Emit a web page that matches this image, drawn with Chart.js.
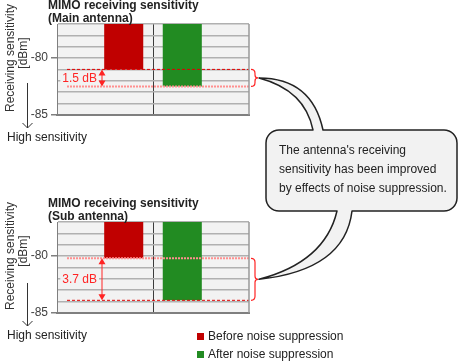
<!DOCTYPE html>
<html>
<head>
<meta charset="utf-8">
<script src="https://cdn.jsdelivr.net/npm/chart.js@4/dist/chart.umd.min.js"></script>
<style>
  html, body { margin: 0; padding: 0; background: #fff; }
  body { width: 460px; height: 364px; position: relative; overflow: hidden;
         font-family: "Liberation Sans", Arial, sans-serif; color: #222; }
  .panel { position: absolute; left: 0; width: 270px; height: 150px; }
  .panel canvas { position: absolute; left: 0; top: 0; }
  .title { position: absolute; left: 48px; top: -1px; font-weight: bold; font-size: 12px;
           line-height: 13px; white-space: nowrap; }
  .ytitle { position: absolute; width: 130px; height: 26px; left: -48.5px; top: 45px;
            transform: rotate(-90deg); text-align: center; font-size: 12px; line-height: 13px;
            white-space: nowrap; color: #333; }
  .ytitle span { display: block; position: relative; left: 5px; }
  .arrow { position: absolute; left: 0; top: 0; }
  .high { position: absolute; left: 7px; top: 130px; font-size: 12px; line-height: 14px; white-space: nowrap; }
  #callout { position: absolute; left: 0; top: 0; }
  #calloutText { position: absolute; left: 279px; top: 141px; font-size: 12px; line-height: 19px;
                 white-space: nowrap; color: #222; }
  #legend { position: absolute; left: 197px; top: 327px; font-size: 12px; }
  #legend div { height: 18px; line-height: 18px; white-space: nowrap; }
  #legend i { display: inline-block; width: 7px; height: 7px; margin-right: 4px; vertical-align: 0; }
</style>
</head>
<body>
<div class="panel" id="panel0" style="top:0px">
  <canvas id="chart0" width="270" height="125"></canvas>
  <div class="title">MIMO receiving sensitivity<br>(Main antenna)</div>
  <div class="ytitle">Receiving sensitivity<span>[dBm]</span></div>
  <svg class="arrow" width="40" height="140"><path d="M27.5 83 V128 M22.5 123 L27.5 128 L32.5 123" stroke="#333" fill="none"/></svg>
  <div class="high">High sensitivity</div>
</div>
<div class="panel" id="panel1" style="top:198px">
  <canvas id="chart1" width="270" height="125"></canvas>
  <div class="title">MIMO receiving sensitivity<br>(Sub antenna)</div>
  <div class="ytitle">Receiving sensitivity<span>[dBm]</span></div>
  <svg class="arrow" width="40" height="140"><path d="M27.5 85 V128 M22.5 123 L27.5 128 L32.5 123" stroke="#333" fill="none"/></svg>
  <div class="high">High sensitivity</div>
</div>
<svg id="callout" width="460" height="364"></svg>
<div id="calloutText">The antenna's receiving<br>sensitivity has been improved<br>by effects of noise suppression.</div>
<div id="legend"></div>

<script>
// Data
const antennaNames = ['Main antenna', 'Sub antenna'];
const seriesNames = ['Before noise suppression', 'After noise suppression'];
const beforeSuppression = [-81.0, -80.2];
const afterSuppression = [-82.5, -83.9];
const yLabelTicks = [-80, -85];
const yAxisTop = -77;
const yAxisBottom = -85;

const seriesColors = ['#c00000', '#228b22'];
const panelTops = [0, 198];
const PLOT_BG = '#f2f2f2';
const NOTE_RED = '#ff2424';

Chart.defaults.font.family = '"Liberation Sans", Arial, sans-serif';
Chart.defaults.font.size = 12;
Chart.defaults.color = '#404040';

// the two guide lines swap style between the panels
const dashedLine = { dash: [3, 2], width: 1, color: '#e00000' };
const dottedLine = { dash: [2, 1], width: 2, color: '#ff9090' };
const panelLineStyles = [[dashedLine, dottedLine], [dottedLine, dashedLine]];

const plotBackground = {
  id: 'plotBackground',
  beforeDraw(chart) {
    const { ctx, chartArea: a } = chart;
    ctx.save();
    ctx.fillStyle = PLOT_BG;
    ctx.fillRect(a.left, a.top, a.right - a.left, a.bottom - a.top);
    ctx.restore();
  },
  afterDraw(chart) {
    const { ctx, chartArea: a } = chart;
    ctx.save();
    ctx.strokeStyle = '#999';
    ctx.lineWidth = 1.5;
    ctx.beginPath();
    ctx.moveTo(a.right, a.top);
    ctx.lineTo(a.right, a.bottom);
    ctx.stroke();
    ctx.restore();
  }
};

// dB difference marker: guide lines, double arrow, label and brace
const gainNote = {
  id: 'gainNote',
  afterDatasetsDraw(chart, args, opts) {
    const { ctx, chartArea: a } = chart;
    const y = chart.scales.y;
    const y1 = y.getPixelForValue(opts.before);
    const y2 = y.getPixelForValue(opts.after);
    const mid = (y1 + y2) / 2;
    ctx.save();
    [y1, y2].forEach((py, i) => {
      const s = opts.styles[i];
      ctx.setLineDash(s.dash);
      ctx.lineWidth = s.width;
      ctx.strokeStyle = s.color;
      ctx.beginPath();
      ctx.moveTo(a.left + 10, py);
      ctx.lineTo(a.right, py);
      ctx.stroke();
    });
    ctx.setLineDash([]);

    const ax = a.left + 45;
    const text = (opts.before - opts.after).toFixed(1) + ' dB';
    ctx.font = '12px "Liberation Sans", Arial, sans-serif';
    const w = ctx.measureText(text).width;
    ctx.fillStyle = PLOT_BG;
    ctx.fillRect(ax - 7 - w, mid - 7, w + 4, 14);
    ctx.fillStyle = NOTE_RED;
    ctx.textAlign = 'right';
    ctx.textBaseline = 'middle';
    ctx.fillText(text, ax - 5, mid + 0.5);

    ctx.strokeStyle = NOTE_RED;
    ctx.lineWidth = 1;
    ctx.beginPath();
    ctx.moveTo(ax, y1 + 4);
    ctx.lineTo(ax, y2 - 4);
    ctx.stroke();
    ctx.beginPath();
    ctx.moveTo(ax, y1); ctx.lineTo(ax - 3.5, y1 + 6); ctx.lineTo(ax + 3.5, y1 + 6); ctx.closePath();
    ctx.moveTo(ax, y2); ctx.lineTo(ax - 3.5, y2 - 6); ctx.lineTo(ax + 3.5, y2 - 6); ctx.closePath();
    ctx.fill();

    const bx = a.right + 2;
    ctx.lineWidth = 1.2;
    ctx.beginPath();
    ctx.moveTo(bx, y1);
    ctx.quadraticCurveTo(bx + 4, y1, bx + 4, y1 + 4);
    ctx.lineTo(bx + 4, mid - 3);
    ctx.quadraticCurveTo(bx + 4, mid, bx + 7, mid);
    ctx.quadraticCurveTo(bx + 4, mid, bx + 4, mid + 3);
    ctx.lineTo(bx + 4, y2 - 4);
    ctx.quadraticCurveTo(bx + 4, y2, bx, y2);
    ctx.stroke();
    ctx.restore();
  }
};

function makePanel(i) {
  const canvas = document.getElementById('chart' + i);
  const bar = (k, v) => ({
    label: seriesNames[k],
    data: [[yAxisTop, v]],
    backgroundColor: seriesColors[k],
    categoryPercentage: 0.61,
    barPercentage: 0.667
  });
  return new Chart(canvas, {
    type: 'bar',
    data: {
      labels: [antennaNames[i]],
      datasets: [bar(0, beforeSuppression[i]), bar(1, afterSuppression[i])]
    },
    options: {
      responsive: false,
      animation: false,
      events: [],
      layout: { padding: { top: 24, right: 21, bottom: 9, left: 0 } },
      plugins: {
        legend: { display: false },
        tooltip: { enabled: false },
        gainNote: { before: beforeSuppression[i], after: afterSuppression[i], styles: panelLineStyles[i] }
      },
      scales: {
        x: {
          ticks: { display: false },
          grid: { offset: false, drawTicks: false, color: '#3c3c3c', lineWidth: 1 },
          border: { color: '#7f7f7f', width: 2 },
          afterFit: s => { s.height = 0; }
        },
        y: {
          min: yAxisBottom,
          max: yAxisTop,
          ticks: {
            stepSize: 1,
            autoSkip: false,
            padding: 3,
            callback: v => yLabelTicks.includes(v) ? v : ''
          },
          grid: {
            color: '#b0b0b0',
            lineWidth: 1.5,
            tickLength: 6,
            tickColor: c => yLabelTicks.includes(c.tick.value) ? '#7f7f7f' : 'rgba(0,0,0,0)'
          },
          border: { color: '#7f7f7f' },
          afterFit: s => { s.width = 57; }
        }
      }
    },
    plugins: [plotBackground, gainNote]
  });
}

function drawCallout(charts) {
  const tips = charts.map((c, i) => {
    const y = c.scales.y;
    const mid = (y.getPixelForValue(beforeSuppression[i]) + y.getPixelForValue(afterSuppression[i])) / 2;
    return { x: c.chartArea.right + 10, y: panelTops[i] + mid };
  });
  const L = 266, R = 457, T = 130, B = 211, r = 13;
  const [t1, t2] = tips;
  const d = [
    `M ${L + r} ${T}`,
    `L 313 ${T}`,
    `Q 305 90 ${t1.x} ${t1.y}`,
    `Q 312 78 323 ${T}`,
    `L ${R - r} ${T}`,
    `A ${r} ${r} 0 0 1 ${R} ${T + r}`,
    `L ${R} ${B - r}`,
    `A ${r} ${r} 0 0 1 ${R - r} ${B}`,
    `L 352 ${B}`,
    `Q 345 270 ${t2.x} ${t2.y}`,
    `Q 325 262 337 ${B}`,
    `L ${L + r} ${B}`,
    `A ${r} ${r} 0 0 1 ${L} ${B - r}`,
    `L ${L} ${T + r}`,
    `A ${r} ${r} 0 0 1 ${L + r} ${T}`,
    'Z'
  ].join(' ');
  document.getElementById('callout').innerHTML =
    `<path d="${d}" fill="#f2f2f2" stroke="#222" stroke-width="1.5" stroke-linejoin="round"/>`;
}

function buildLegend() {
  document.getElementById('legend').innerHTML = seriesNames.map((name, k) =>
    `<div><i style="background:${seriesColors[k]}"></i>${name}</div>`).join('');
}

const charts = [0, 1].map(makePanel);
drawCallout(charts);
buildLegend();
</script>
</body>
</html>
